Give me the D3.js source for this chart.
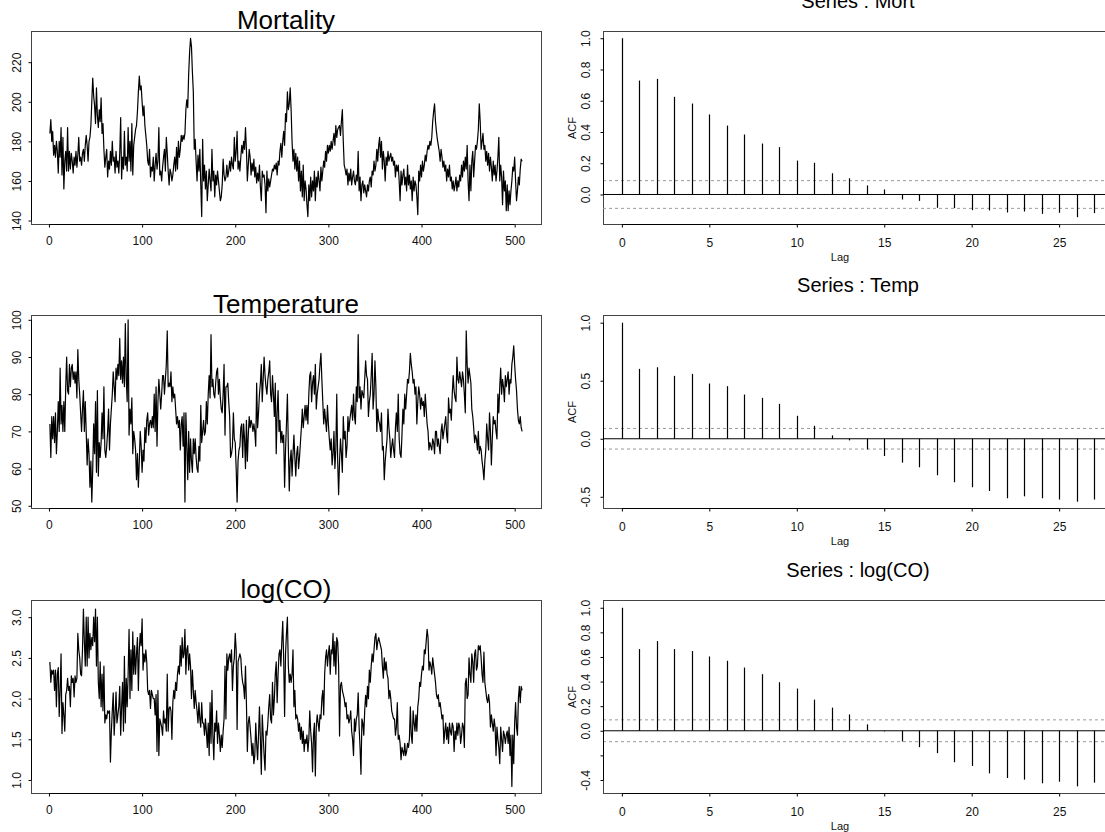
<!DOCTYPE html>
<html>
<head>
<meta charset="utf-8">
<script src="https://cdn.jsdelivr.net/npm/d3@7"></script>
<style>
  body { margin: 0; background: #fff; }
  svg { display: block; font-family: "Liberation Sans", Arial, Helvetica, sans-serif; }
</style>
</head>
<body>
<svg id="chart" width="1105" height="832"></svg>
<script>
// weekly series, 508 weeks
const mort = [
  184,191,180,185,173,178,172,180,175,164, 180,172,187,163,182,156,170,175,165,187,
  165,175,166,174,170,164,172,168,175,167, 173,182,170,172,168,174,176,170,178,183,
  178,170,180,182,188,200,212,203,198,189, 207,193,187,196,190,202,184,189,176,167,
  172,176,162,170,166,175,168,180,170,172, 164,175,167,170,164,174,192,161,172,166,
  185,168,172,165,187,170,180,165,189,163, 178,182,186,188,195,205,213,206,208,200,
  193,198,188,183,178,170,168,176,162,167, 165,172,160,168,174,166,170,187,163,165,
  160,167,172,176,165,182,174,165,158,166, 164,160,163,168,172,165,177,166,180,172,
  176,183,180,183,181,184,196,201,197,214, 225,232,228,215,205,176,181,170,160,173,
  165,176,158,142,181,160,168,156,165,150, 158,166,160,155,176,160,165,152,163,158,
  165,160,155,150,152,158,171,163,160,162, 168,162,165,170,165,172,168,166,182,170,
  175,185,166,170,165,172,178,174,180,176, 187,176,160,168,176,172,163,169,165,171,
  162,167,159,164,160,168,157,150,165,162, 163,158,144,165,155,161,157,160,163,166,
  165,168,166,169,163,170,168,175,179,172, 180,185,178,194,190,205,196,199,207,196,
  180,170,176,166,174,165,172,160,170,155, 165,152,168,150,160,156,148,142,158,150,
  162,152,160,155,165,150,162,157,165,160, 155,167,160,165,170,167,175,170,178,174,
  178,175,180,176,180,184,178,188,182,186, 187,188,183,190,196,180,168,166,163,166,
  158,164,160,166,158,162,165,160,158,163, 160,175,155,162,150,158,160,154,158,155,
  152,158,155,160,162,157,165,163,170,165, 168,176,170,178,182,172,180,166,175,170,
  160,172,168,175,170,172,174,170,172,168, 170,162,168,165,168,160,150,165,158,163,
  166,158,162,155,168,158,163,156,160,150, 162,155,160,158,152,143,165,160,168,162,
  170,165,168,173,170,175,178,176,180,178, 182,190,195,199,190,185,181,178,175,170,
  176,172,167,170,165,168,160,166,162,168, 160,162,156,160,155,158,162,155,160,157,
  163,160,168,162,170,165,172,166,178,160, 150,168,155,170,175,162,170,178,176,180,
  186,199,190,176,180,184,176,178,170,175, 168,174,165,172,167,160,170,163,168,160,
  165,172,182,160,168,162,148,165,155,160, 145,158,145,155,148,155,160,167,165,172,
  160,150,155,162,158,166,171,170
];

const temp = [
  72,63,74,68,74,67,75,64,70,78, 70,87,72,77,70,78,70,82,90,81,
  80,88,82,87,88,84,86,83,86,79, 92,84,80,75,70,76,81,70,78,70,
  61,68,64,55,62,51,60,72,64,78, 59,81,58,67,63,67,75,68,82,65,
  63,66,70,76,65,72,76,80,86,82, 78,87,84,88,85,95,84,89,83,90,
  82,99,84,78,100,69,76,72,79,64, 70,68,65,57,64,55,62,70,66,59,
  65,62,71,67,73,75,69,72,73,71, 74,71,80,70,82,66,78,84,80,76,
  80,85,85,80,84,88,97,82,83,82, 86,78,82,79,80,76,72,74,71,73,
  65,72,74,66,75,51,75,66,57,70, 59,68,62,59,68,64,68,63,60,59,
  66,62,77,67,70,73,69,70,78,72, 80,85,79,96,82,84,80,79,83,86,
  87,80,84,79,76,75,80,88,69,82, 82,83,78,74,63,64,66,75,68,67,
  60,51,62,65,66,71,72,63,72,68, 60,73,62,69,74,71,73,72,70,72,
  70,66,83,71,75,80,83,88,78,84, 90,85,82,80,84,86,89,80,78,85,
  80,74,83,64,75,81,70,73,67,70, 67,69,55,65,72,80,66,54,62,65,
  58,64,69,63,58,64,66,60,63,67, 71,76,71,74,77,73,77,72,80,85,
  86,78,83,85,80,88,76,80,82,84, 88,91,84,78,72,76,73,70,77,72,
  68,65,68,61,64,70,60,65,80,62, 53,62,68,64,59,74,68,70,63,66,
  74,70,73,75,77,73,80,74,72,82, 78,96,79,82,76,81,80,79,84,89,
  85,84,74,78,80,85,91,76,80,89, 82,70,76,73,72,70,75,65,66,57,
  62,65,68,76,71,68,63,66,68,65, 63,71,75,70,80,68,64,63,69,76,
  72,80,76,80,84,83,86,91,88,86, 83,84,80,82,72,78,82,80,76,79,
  77,78,74,80,76,72,70,65,67,66, 65,68,67,64,70,70,66,68,66,64,
  70,72,68,70,72,74,69,67,79,75, 76,73,80,85,81,79,78,90,84,83,
  86,84,82,86,84,80,75,97,88,83, 87,85,83,76,74,71,67,69,68,65,
  70,64,66,65,62,60,57,62,65,72, 68,65,75,70,61,68,74,72,73,70,
  68,80,75,82,87,80,84,82,78,85, 82,84,86,80,84,83,88,90,93,88,
  84,81,76,73,72,74,71,70
];

const logco = [
  2.45,2.2,2.35,2.3,2.35,2.1,2.35,1.9,2.3,2.38, 1.78,2.1,2.55,1.57,1.95,1.8,1.6,2.05,2.1,2.25,
  2.1,2.15,1.9,2.28,2.2,2.25,2.02,2.28,2.2,2.25, 2.8,2.6,2.5,2.3,2.28,2.6,3.1,2.7,2.4,3.0,
  2.4,3.0,2.5,2.8,2.6,2.75,2.65,3.0,2.7,3.1, 2.4,3.0,2.2,2.0,2.45,1.9,2.3,1.85,2.4,1.7,
  1.8,1.75,1.85,1.82,1.85,1.22,1.6,1.85,2.07,1.55, 1.8,2.08,1.7,1.8,1.9,2.15,1.55,1.9,2.2,1.6,
  2.52,1.7,2.25,1.9,2.3,2.85,2.0,2.6,2.1,2.82, 2.3,2.65,2.3,2.55,2.75,2.1,2.6,2.8,2.65,2.98,
  2.35,2.55,2.45,2.6,2.45,2.1,2.05,2.1,1.88,2.1, 2.05,2.0,2.0,1.8,2.05,1.35,2.1,1.3,1.75,1.7,
  1.65,1.55,1.85,1.7,1.75,1.6,2.3,1.6,1.88,1.9, 1.85,1.5,1.95,2.1,2.0,2.2,2.1,2.3,2.4,2.3,
  2.65,2.4,2.75,2.5,2.55,2.85,2.3,2.6,2.65,2.35, 2.55,2.4,2.0,2.35,2.1,1.88,2.1,1.95,1.85,1.7,
  1.95,1.75,1.65,1.95,1.7,1.7,1.55,1.75,1.6,1.4, 1.7,1.3,1.95,1.45,2.1,1.55,1.25,1.7,1.6,1.85,
  1.45,1.7,1.55,1.35,1.55,1.4,1.6,1.75,2.4,1.75, 2.55,2.35,2.5,2.55,2.45,2.6,2.1,2.4,2.5,2.8,
  2.6,1.62,2.45,2.5,2.55,2.5,2.3,2.2,2.15,2.0, 2.4,1.95,1.35,1.7,1.78,1.65,1.5,1.3,1.45,1.2,
  1.3,1.7,1.45,1.25,1.55,1.9,1.5,1.07,1.8,1.55, 1.3,1.12,1.6,1.55,1.7,1.9,2.05,1.75,1.7,2.2,
  1.8,2.0,2.3,2.45,1.95,2.3,2.55,2.6,2.4,2.7, 2.95,2.5,1.78,2.55,2.8,3.0,2.4,2.2,2.3,2.2,
  2.3,2.6,1.9,2.1,1.75,1.8,1.75,1.6,1.7,1.5, 1.65,1.45,1.6,1.35,1.5,1.45,1.55,1.35,1.5,1.85,
  1.6,1.45,1.1,1.55,1.7,1.05,1.65,1.8,1.7,1.6, 1.8,1.75,2.0,2.1,1.8,2.3,2.5,2.6,2.4,2.55,
  2.65,2.3,2.6,2.55,2.8,2.4,2.7,2.3,2.75,2.7, 2.4,1.54,2.16,2.2,2.1,2.05,2.0,1.9,1.95,1.75,
  1.8,1.7,1.75,1.85,1.6,1.5,1.3,1.75,1.6,1.75, 1.8,2.07,1.65,1.4,1.07,1.75,1.7,1.55,1.85,2.04,
  1.9,2.15,2.0,2.35,2.2,2.4,2.55,2.45,2.6,2.75, 2.8,2.6,2.7,2.75,2.7,2.65,2.6,2.4,2.25,2.5,
  2.35,2.45,2.3,2.25,2.0,2.1,2.0,1.85,1.8,1.75, 1.75,1.55,1.65,1.95,1.5,1.55,1.45,1.25,1.4,1.35,
  1.3,1.45,1.3,1.35,1.45,1.4,1.5,1.9,1.55,1.45, 1.85,1.7,1.6,1.8,1.6,1.9,2.0,2.2,2.15,2.3,
  2.4,2.35,2.6,2.55,2.7,2.85,2.75,2.35,2.45,2.4, 2.3,2.5,2.4,2.3,2.2,2.05,2.0,2.05,1.9,1.95,
  1.85,1.75,1.8,1.45,1.6,1.7,1.5,1.65,1.45,1.7, 1.6,1.55,1.7,1.65,1.35,1.6,1.5,1.7,1.55,1.7,
  1.65,1.45,1.55,1.7,1.65,1.4,2.18,2.25,2.0,2.05, 2.5,2.3,2.2,2.55,2.45,2.2,2.55,2.6,2.35,2.4,
  2.65,2.6,2.65,2.5,2.3,2.2,2.57,2.2,2.1,2.0, 1.95,2.05,1.95,1.65,1.8,1.7,1.6,1.75,1.65,1.3,
  1.65,1.5,1.4,1.2,1.65,1.5,1.35,1.6,1.55,1.45, 1.55,1.6,1.45,1.65,1.3,1.55,0.92,1.55,1.2,1.7,
  1.95,1.65,1.55,2.0,2.15,1.95,2.15,2.1
];

// autocorrelations, lags 0..27
const acfMort  = [1.0,0.729,0.740,0.625,0.582,0.512,0.441,0.384,0.326,0.303,0.217,0.203,0.136,0.104,
                  0.058,0.032,-0.032,-0.041,-0.085,-0.087,-0.100,-0.102,-0.115,-0.109,-0.124,-0.117,-0.145,-0.119];
const acfTemp  = [1.0,0.602,0.616,0.542,0.559,0.476,0.453,0.381,0.352,0.301,0.198,0.112,0.029,-0.014,
                  -0.092,-0.149,-0.206,-0.246,-0.315,-0.375,-0.418,-0.450,-0.513,-0.496,-0.513,-0.524,-0.542,-0.524];
const acfLogco = [1.0,0.664,0.729,0.664,0.648,0.604,0.569,0.514,0.460,0.395,0.343,0.253,0.188,0.133,
                  0.052,-0.005,-0.087,-0.133,-0.182,-0.256,-0.286,-0.346,-0.384,-0.397,-0.427,-0.414,-0.452,-0.422];
const ciBound = 0.0887;   // 2/sqrt(n)

// tick labels
const weekTicks = [0, 100, 200, 300, 400, 500];
const lagTicks = [0, 5, 10, 15, 20, 25];
const mortTicks = [140, 160, 180, 200, 220];
const tempTicks = [50, 60, 70, 80, 90, 100];
const logcoTicks = [1.0, 1.5, 2.0, 2.5, 3.0];
const acfMortTicks = [0, 0.2, 0.4, 0.6, 0.8, 1.0];
const acfTempTicks = [-0.5, 0, 0.5, 1.0];
const acfLogcoTicks = [-0.4, -0.2, 0, 0.2, 0.4, 0.6, 0.8, 1.0];

const svg = d3.select("#chart");
const f1 = d => d3.format(".1f")(d).replace("\u2212", "-");
const f0 = d => String(d);

const rowTop = [31, 315, 600];
const boxH = 193;
const left = { x0: 31, x1: 541 };
const right = { x0: 603, x1: 1113 };

// x scales
const xWeek = d3.scaleLinear()
  .domain([1 - 507 * 0.04, 508 + 507 * 0.04])
  .range([left.x0, left.x1]);
const xLag = d3.scaleLinear()
  .domain([-27 * 0.04, 27 * 1.04])
  .range([right.x0, right.x1]);

function yAxisFor(g, y, x0, ticks, fmt, labelOff, hide) {
  const gy = g.append("g")
    .attr("transform", `translate(${x0},0)`)
    .call(d3.axisLeft(y).tickValues(ticks).tickSize(3).tickFormat(d => hide.includes(d) ? "" : fmt(d)))
    .attr("font-size", 12).attr("font-family", null);
  gy.select(".domain").remove();
  gy.selectAll(".tick line").attr("stroke", "#000");
  gy.selectAll("text")
    .attr("x", 0).attr("dy", 0)
    .attr("text-anchor", "middle")
    .attr("fill", "#111")
    .attr("transform", `translate(${-labelOff},0) rotate(-90)`);
  g.append("line")
    .attr("x1", x0).attr("x2", x0)
    .attr("y1", y(ticks[0])).attr("y2", y(ticks[ticks.length - 1]))
    .attr("stroke", "#000");
}

function xAxisFor(g, x, yb, ticks, labelOff) {
  const gx = g.append("g")
    .attr("transform", `translate(0,${yb})`)
    .call(d3.axisBottom(x).tickValues(ticks).tickSize(3))
    .attr("font-size", 12).attr("font-family", null);
  gx.select(".domain").remove();
  gx.selectAll(".tick line").attr("stroke", "#000");
  gx.selectAll("text").attr("y", labelOff).attr("dy", 0).attr("fill", "#111");
  g.append("line")
    .attr("x1", x(ticks[0])).attr("x2", x(ticks[ticks.length - 1]))
    .attr("y1", yb).attr("y2", yb)
    .attr("stroke", "#000");
}

function box(g, x0, x1, top) {
  g.append("rect")
    .attr("x", x0).attr("y", top)
    .attr("width", x1 - x0).attr("height", boxH)
    .attr("fill", "none").attr("stroke", "#444");
}

// left column: the series
function drawSeries(row, values, yDomain, ticks, fmt, title) {
  const top = rowTop[row] + 0.5, bottom = top + boxH;
  const g = svg.append("g");
  const y = d3.scaleLinear().domain(yDomain).range([bottom, top]);

  box(g, left.x0 + 0.5, left.x1 + 0.5, top);

  g.append("path")
    .datum(values)
    .attr("fill", "none")
    .attr("stroke", "#000")
    .attr("stroke-width", 1.2)
    .attr("stroke-linejoin", "round")
    .attr("d", d3.line().x((d, i) => xWeek(i + 1)).y(d => y(d)));

  yAxisFor(g, y, left.x0 + 0.5, ticks, fmt, 10.5, []);
  xAxisFor(g, xWeek, bottom, weekTicks, 20);

  g.append("text")
    .attr("x", (left.x0 + left.x1) / 2)
    .attr("y", top - 2.5)
    .attr("text-anchor", "middle")
    .attr("font-size", 26)
    .attr("fill", "#000")
    .text(title);
}

// right column: ACF plots
function drawAcf(row, values, yDomain, ticks, hide, title) {
  const top = rowTop[row] + 0.5, bottom = top + boxH;
  const g = svg.append("g");
  const y = d3.scaleLinear().domain(yDomain).range([bottom, top]);

  box(g, right.x0 + 0.5, right.x1 + 0.5, top);

  [ciBound, -ciBound].forEach(c => {
    g.append("line")
      .attr("x1", right.x0).attr("x2", right.x1)
      .attr("y1", y(c)).attr("y2", y(c))
      .attr("stroke", "#9a9a9a")
      .attr("stroke-dasharray", "3,3");
  });

  g.append("line")
    .attr("x1", right.x0).attr("x2", right.x1)
    .attr("y1", y(0)).attr("y2", y(0))
    .attr("stroke", "#000");

  g.selectAll(".spike")
    .data(values)
    .enter()
    .append("line")
    .attr("class", "spike")
    .attr("x1", (d, i) => Math.round(xLag(i)) + 0.5)
    .attr("x2", (d, i) => Math.round(xLag(i)) + 0.5)
    .attr("y1", y(0))
    .attr("y2", d => y(d))
    .attr("stroke", "#000")
    .attr("stroke-width", 1.2);

  yAxisFor(g, y, right.x0 + 0.5, ticks, f1, 14, hide);
  xAxisFor(g, xLag, bottom, lagTicks, 22);

  g.append("text")
    .attr("x", (right.x0 + right.x1) / 2)
    .attr("y", top - 24)
    .attr("text-anchor", "middle")
    .attr("font-size", 20)
    .attr("fill", "#000")
    .text(title);

  g.append("text")
    .attr("x", (right.x0 + right.x1) / 2 - 18)
    .attr("y", bottom + 36)
    .attr("text-anchor", "middle")
    .attr("font-size", 11)
    .attr("fill", "#111")
    .text("Lag");

  g.append("text")
    .attr("transform", `translate(${right.x0 - 27},${(top + bottom) / 2}) rotate(-90)`)
    .attr("text-anchor", "middle")
    .attr("font-size", 11)
    .attr("fill", "#111")
    .text("ACF");
}

drawSeries(0, mort, [138.0, 235.5], mortTicks, f0, "Mortality");
drawSeries(1, temp, [49.27, 101.16], tempTicks, f0, "Temperature");
drawSeries(2, logco, [0.834, 3.205], logcoTicks, f1, "log(CO)");

drawAcf(0, acfMort, [-0.192, 1.043], acfMortTicks, [], "Series : Mort");
drawAcf(1, acfTemp, [-0.601, 1.062], acfTempTicks, [], "Series : Temp");
drawAcf(2, acfLogco, [-0.510, 1.059], acfLogcoTicks, [-0.2], "Series : log(CO)");
</script>
</body>
</html>
